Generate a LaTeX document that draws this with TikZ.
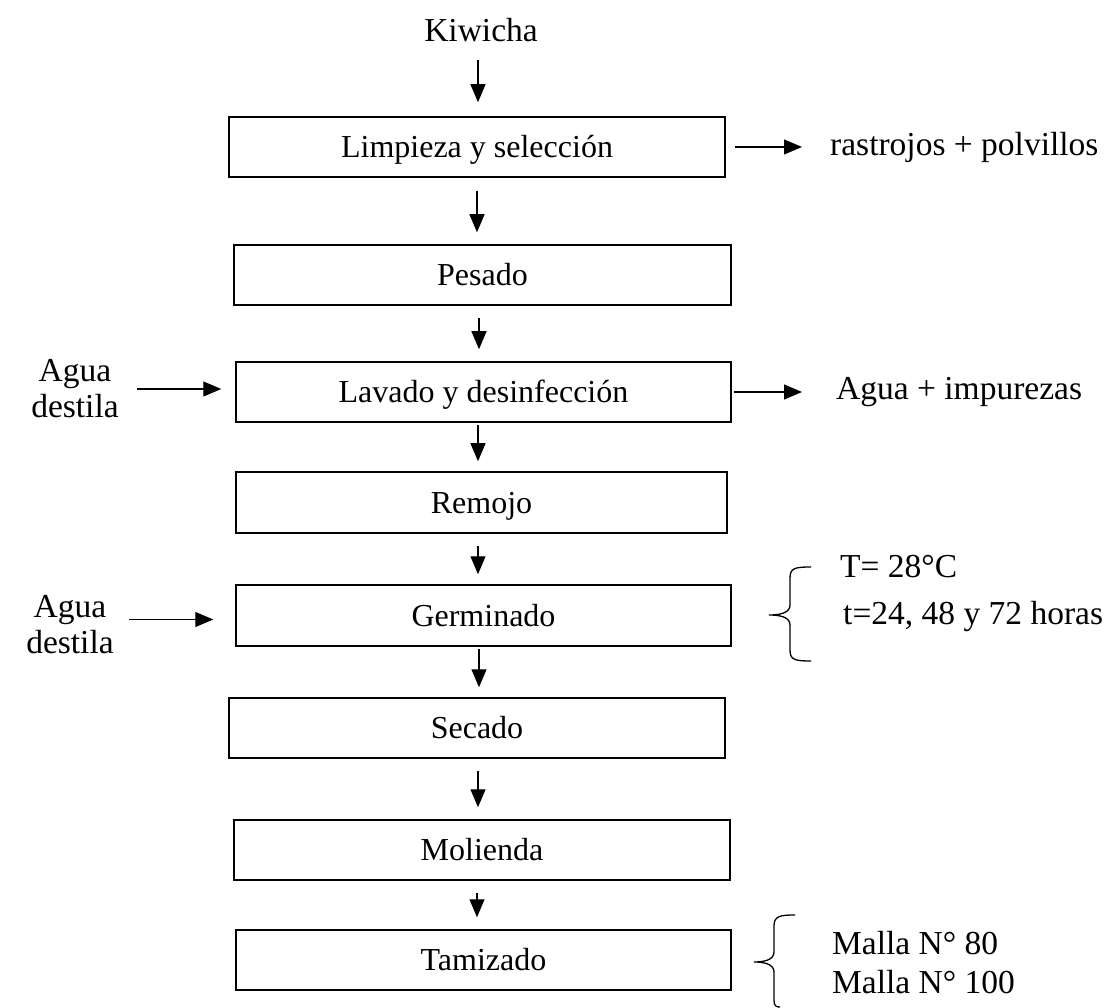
\documentclass[tikz,border=0pt]{standalone}
\usepackage{fontspec}
\setmainfont{Liberation Serif}
\usetikzlibrary{arrows.meta,calc}
\begin{document}
\begin{tikzpicture}[x=1pt,y=-1pt,
  procbox/.style={draw, line width=1.5pt, minimum height=60pt, inner sep=0pt, text height=24pt, text depth=3pt, font=\fontsize{32}{38}\selectfont},
  lbl/.style={inner sep=0pt, font=\fontsize{33.5}{36}\selectfont},
  arr/.style={line width=1.2pt, -{Triangle[length=18pt,width=15pt]}},
  brc/.style={line width=1.3pt}]
\useasboundingbox (0,0) rectangle (1112,1008);

% title input
\node[lbl] (k) at (481,30) {Kiwicha};

% process boxes
\node[procbox, minimum width=496pt] (b1) at (477,147) {Limpieza y selección};
\node[procbox, minimum width=497pt] (b2) at (482.5,275) {Pesado};
\node[procbox, minimum width=495pt] (b3) at (483.5,392) {Lavado y desinfección};
\node[procbox, minimum width=491pt, minimum height=61pt] (b4) at (481.5,502.5) {Remojo};
\node[procbox, minimum width=495pt, minimum height=61pt] (b5) at (483.5,615.5) {Germinado};
\node[procbox, minimum width=496pt] (b6) at (477,728) {Secado};
\node[procbox, minimum width=496pt] (b7) at (482,850) {Molienda};
\node[procbox, minimum width=495pt] (b8) at (483.5,960) {Tamizado};

% side texts
\node[lbl, anchor=west] (r1) at (830,147) {rastrojos + polvillos};
\node[lbl, align=center] (a1) at (75,389) {Agua\\destila};
\node[lbl, anchor=west] (r2) at (836,392) {Agua + impurezas};
\node[lbl, align=center] (a2) at (70,625) {Agua\\destila};
\node[lbl, anchor=west] (t1) at (840,567) {T= 28°C};
\node[lbl, anchor=west] (t2) at (843,616) {t=24, 48 y 72 horas};
\node[lbl, anchor=west] (m1) at (832,943) {Malla N° 80};
\node[lbl, anchor=west] (m2) at (832,982) {Malla N° 100};

% main flow arrows
\draw[arr] ($(k.south)+(-3,18)$) -- ($(b1.north -| k)+(-3,-14)$);
\draw[arr] ($(b1.south -| k)+(-4,13)$) -- ($(b2.north -| k)+(-4,-12)$);
\draw[arr] ($(b2.south -| k)+(-2,12)$) -- ($(b3.north -| k)+(-2,-12)$);
\draw[arr] ($(b3.south -| k)+(-3,2)$) -- ($(b4.north -| k)+(-3,-10)$);
\draw[arr] ($(b4.south -| k)+(-3,12)$) -- ($(b5.north -| k)+(-3,-10)$);
\draw[arr] ($(b5.south -| k)+(-2,2)$) -- ($(b6.north -| k)+(-2,-10)$);
\draw[arr] ($(b6.south -| k)+(-3,12)$) -- ($(b7.north -| k)+(-3,-12)$);
\draw[arr] ($(b7.south -| k)+(-4,12)$) -- ($(b8.north -| k)+(-4,-12)$);

% side arrows
\draw[arr] ($(b1.east)+(9,0)$) -- ($(r1.west)+(-28,0)$);
\draw[arr] ($(a1.east |- b3.west)+(18,-3)$) -- ($(b3.west)+(-14,-3)$);
\draw[arr] ($(b3.east)+(2,0)$) -- ($(r2.west)+(-34,0)$);
\draw[arr] ($(a2.east |- b5.west)+(15,4)$) -- ($(b5.west)+(-22,4)$);

% braces
\draw[brc] (811,567) .. controls (795,567) and (790,568) .. (790,578) -- (790,605)
  .. controls (790,613) and (780,615) .. (769,615)
  .. controls (780,615) and (790,617) .. (790,625) -- (790,650)
  .. controls (790,660) and (795,661) .. (811,661);
\draw[brc] (795,915) .. controls (780,915) and (774,916) .. (774,926) -- (774,952)
  .. controls (774,960) and (764,962) .. (754,962)
  .. controls (764,962) and (774,964) .. (774,972) -- (774,1000)
  .. controls (774,1006) and (776,1007) .. (780,1007);
\end{tikzpicture}
\end{document}
